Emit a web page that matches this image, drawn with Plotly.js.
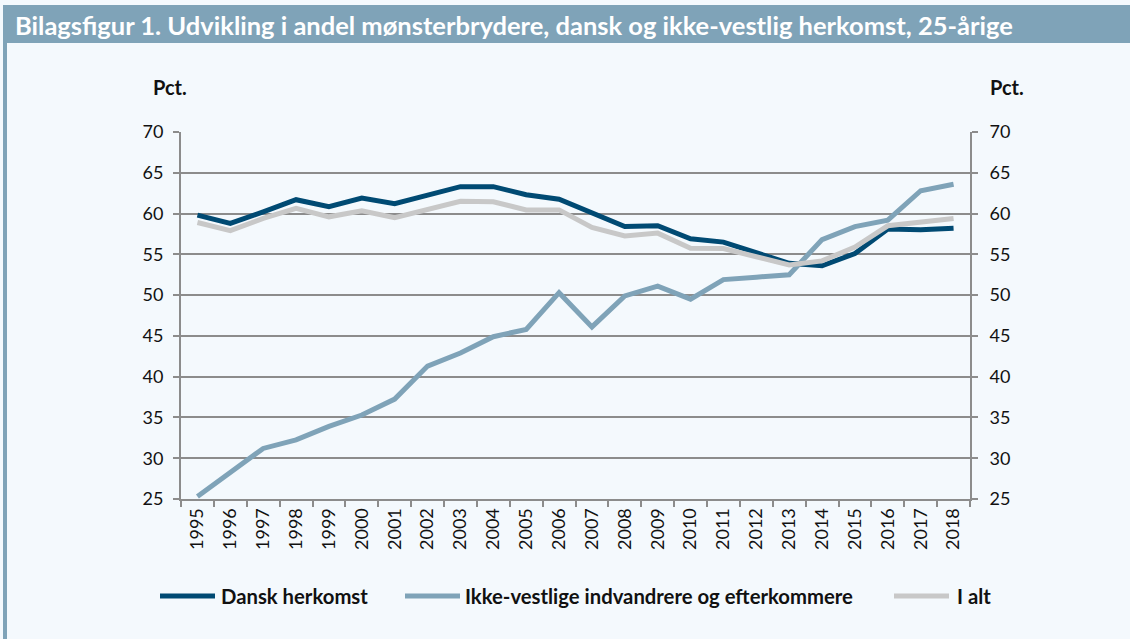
<!DOCTYPE html>
<html>
<head>
<meta charset="utf-8">
<script src="https://cdn.plot.ly/plotly-3.0.1.min.js"></script>
<style>
html,body{margin:0;padding:0;background:#f4f9fd;}
#chart{width:1130px;height:639px;}
</style>
</head>
<body>
<div id="chart"></div>
<script>
const years = ["1995","1996","1997","1998","1999","2000","2001","2002","2003","2004","2005","2006","2007","2008","2009","2010","2011","2012","2013","2014","2015","2016","2017","2018"];
const danskHerkomst = [59.8,58.8,60.2,61.7,60.85,61.9,61.2,62.2,63.3,63.3,62.3,61.75,60.0,58.4,58.5,56.9,56.5,55.2,53.9,53.6,55.1,58.1,58.0,58.2];
const ikkeVestlige = [25.3,28.2,31.2,32.25,33.9,35.3,37.25,41.3,42.9,44.9,45.8,50.3,46.1,49.9,51.1,49.5,51.9,52.2,52.5,56.8,58.4,59.2,62.8,63.6];
const iAlt = [58.9,57.9,59.4,60.65,59.6,60.35,59.5,60.5,61.5,61.45,60.45,60.45,58.3,57.25,57.6,55.75,55.7,54.7,53.7,54.2,55.9,58.5,59.0,59.4];
const seriesNames = ["Dansk herkomst","Ikke-vestlige indvandrere og efterkommere","I alt"];
const seriesColors = ["#004a73","#7fa3b8","#c8c8c8"];
const titleText = "Bilagsfigur 1. Udvikling i andel mønsterbrydere, dansk og ikke-vestlig herkomst, 25-årige";

const W = 1130, H = 639;
const M = {l:181, r:160, t:132, b:140};
const PW = W - M.l - M.r, PH = H - M.t - M.b;
const px = x => (x - M.l) / PW;
const py = y => 1 - (y - M.t) / PH;

const data = [danskHerkomst, ikkeVestlige, iAlt].map((v, i) => ({
  type: "scatter", mode: "lines", x: years, y: v, name: seriesNames[i],
  line: {color: seriesColors[i], width: 5, shape: "linear"},
  hoverinfo: "x+y+name", showlegend: false
}));
data.push({type:"scatter", mode:"lines", x: years, y: iAlt, yaxis:"y2", line:{width:0, color:"rgba(0,0,0,0)"}, showlegend:false, hoverinfo:"skip"});

const gridC = "#8c8c8c";
const tickFont = {family:"Lato, 'Open Sans', sans-serif", size:18, color:"#111"};

const shapes = [
  {type:"rect", xref:"paper", yref:"paper", x0:px(3), x1:px(1130), y0:py(43), y1:py(5), fillcolor:"#7fa3b8", line:{width:0}, layer:"below"},
  {type:"rect", xref:"paper", yref:"paper", x0:px(3), x1:px(7), y0:py(639), y1:py(43), fillcolor:"#7fa3b8", line:{width:0}, layer:"below"}
];
const annotations = [
  {xref:"paper", yref:"paper", x:px(13), y:py(25), xanchor:"left", yanchor:"middle", text:"<b>"+titleText+"</b>", showarrow:false, font:{family:"Lato, sans-serif", size:25.5, color:"#ffffff"}},
  {xref:"paper", yref:"paper", x:px(170), y:py(87), xanchor:"center", yanchor:"middle", text:"<b>Pct.</b>", showarrow:false, font:{family:"Lato, sans-serif", size:20, color:"#111"}},
  {xref:"paper", yref:"paper", x:px(1007), y:py(87), xanchor:"center", yanchor:"middle", text:"<b>Pct.</b>", showarrow:false, font:{family:"Lato, sans-serif", size:20, color:"#111"}}
];
const legX = [[160,215,219],[405,460,463],[894,949,955]];
legX.forEach((p, i) => {
  shapes.push({type:"line", xref:"paper", yref:"paper", x0:px(p[0]), x1:px(p[1]), y0:py(596), y1:py(596), line:{color:seriesColors[i], width:5}});
  annotations.push({xref:"paper", yref:"paper", x:px(p[2]), y:py(596), xanchor:"left", yanchor:"middle", text:"<b>"+seriesNames[i]+"</b>", showarrow:false, font:{family:"Lato, sans-serif", size:20.3, color:"#111"}});
});

const layout = {
  width: W, height: H,
  margin: M,
  paper_bgcolor: "#f4f9fd", plot_bgcolor: "#f4f9fd",
  showlegend: false,
  xaxis: {
    type:"category", tickson:"boundaries", ticks:"outside", ticklen:6, tickwidth:2, tickcolor:gridC,
    showline:true, linecolor:gridC, linewidth:2, showgrid:false, tickangle:-90,
    tickfont: tickFont, range:[-0.5, 23.5], zeroline:false
  },
  yaxis: {
    range:[25,70], dtick:5, tick0:25, ticks:"outside", ticklen:6, tickwidth:2, tickcolor:gridC,
    showline:true, linecolor:gridC, linewidth:2, showgrid:true, gridcolor:gridC, gridwidth:2,
    tickfont: tickFont, zeroline:false, ticklabelstandoff:6
  },
  yaxis2: {
    range:[25,70], dtick:5, tick0:25, overlaying:"y", side:"right", ticks:"outside", ticklen:6, tickwidth:2, tickcolor:gridC,
    showline:true, linecolor:gridC, linewidth:2, showgrid:false,
    tickfont: tickFont, zeroline:false, ticklabelstandoff:8
  },
  shapes: shapes,
  annotations: annotations
};
Plotly.newPlot("chart", data, layout, {displayModeBar:false, staticPlot:true});
</script>
</body>
</html>
